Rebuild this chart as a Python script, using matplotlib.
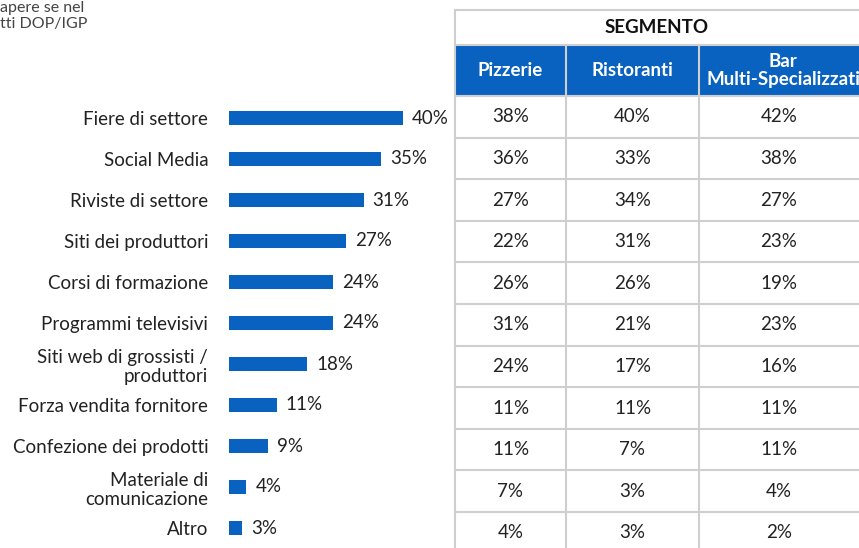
import matplotlib.pyplot as plt
from matplotlib.patches import Rectangle

plt.rcParams['font.family'] = ['Lato', 'DejaVu Sans']

# dati
categorie = ['Fiere di settore', 'Social Media', 'Riviste di settore',
             'Siti dei produttori', 'Corsi di formazione', 'Programmi televisivi',
             'Siti web di grossisti /\nproduttori', 'Forza vendita fornitore',
             'Confezione dei prodotti', 'Materiale di\ncomunicazione', 'Altro']
totale = [40, 35, 31, 27, 24, 24, 18, 11, 9, 4, 3]

colonne = ['Pizzerie', 'Ristoranti', 'Bar\nMulti-Specializzati']
pizzerie = [38, 36, 27, 22, 26, 31, 24, 11, 11, 7, 4]
ristoranti = [40, 33, 34, 31, 26, 21, 17, 11, 7, 3, 3]
bar_multi = [42, 38, 27, 23, 19, 23, 16, 11, 11, 4, 2]

blu = '#0a62c0'
grigio = '#cfcfcf'
W, H = 859, 548

fig = plt.figure(figsize=(W / 100, H / 100), dpi=100)

# grafico a barre
ax = fig.add_axes([229 / W, -0.5 / H, 226 / W, 451 / H])
y = range(len(categorie))
ax.barh(y, totale, height=0.34, color=blu)
ax.set_xlim(0, 226 / 4.34)
ax.set_ylim(len(categorie) - 0.5, -0.5)
for i, v in enumerate(totale):
    ax.text(v + 2.1, i, f'{v}%', va='center', ha='left', fontsize=13.5, color='#222222')
ax.set_yticks(list(y))
ax.set_yticklabels(categorie, fontsize=13.5, color='#222222', linespacing=1.2)
ax.tick_params(axis='y', length=0, pad=15)
ax.set_xticks([])
for s in ax.spines.values():
    s.set_visible(False)

# tabella
t = fig.add_axes([0, 0, 1, 1])
t.set_xlim(0, W)
t.set_ylim(H, 0)
t.axis('off')

x_col = [455, 566, 699, 859]
y_seg, y_head, y_dati, h_riga = 10, 45, 96, 41.6

t.add_patch(Rectangle((x_col[0], y_head), W - x_col[0], y_dati - y_head,
                      facecolor=blu, edgecolor='none'))
t.text((x_col[0] + W) / 2, (y_seg + y_head) / 2, 'SEGMENTO',
       ha='center', va='center', fontsize=13.5, fontweight='bold', color='#111111')
for j, nome in enumerate(colonne):
    t.text((x_col[j] + x_col[j + 1]) / 2 + (4 if j == 2 else 0), (y_head + y_dati) / 2, nome,
           ha='center', va='center', fontsize=13.5, fontweight='bold', color='white',
           linespacing=1.05)

valori = [pizzerie, ristoranti, bar_multi]
for j, serie in enumerate(valori):
    for i, v in enumerate(serie):
        t.text((x_col[j] + x_col[j + 1]) / 2, y_dati + (i + 0.5) * h_riga, f'{v}%',
               ha='center', va='center', fontsize=13.5, color='#222222')

# linee della griglia
n = len(categorie)
t.plot([x_col[0], W], [y_seg, y_seg], color=grigio, lw=1.5)
t.plot([x_col[0], W], [y_head, y_head], color=grigio, lw=1.5)
for i in range(n):
    yy = y_dati + i * h_riga
    t.plot([x_col[0], W], [yy, yy], color=grigio, lw=1.5)
t.plot([x_col[0], x_col[0]], [y_seg, H], color=grigio, lw=1.5)
for xx in x_col[1:3]:
    t.plot([xx, xx], [y_head, H], color=grigio, lw=1.5)

# testo in alto a sinistra
t.text(0, 8, 'apere se nel', ha='left', va='center', fontsize=11.5, color='#444444')
t.text(0, 24, 'tti DOP/IGP', ha='left', va='center', fontsize=11.5, color='#444444')

fig.savefig('out.png', dpi=100)
